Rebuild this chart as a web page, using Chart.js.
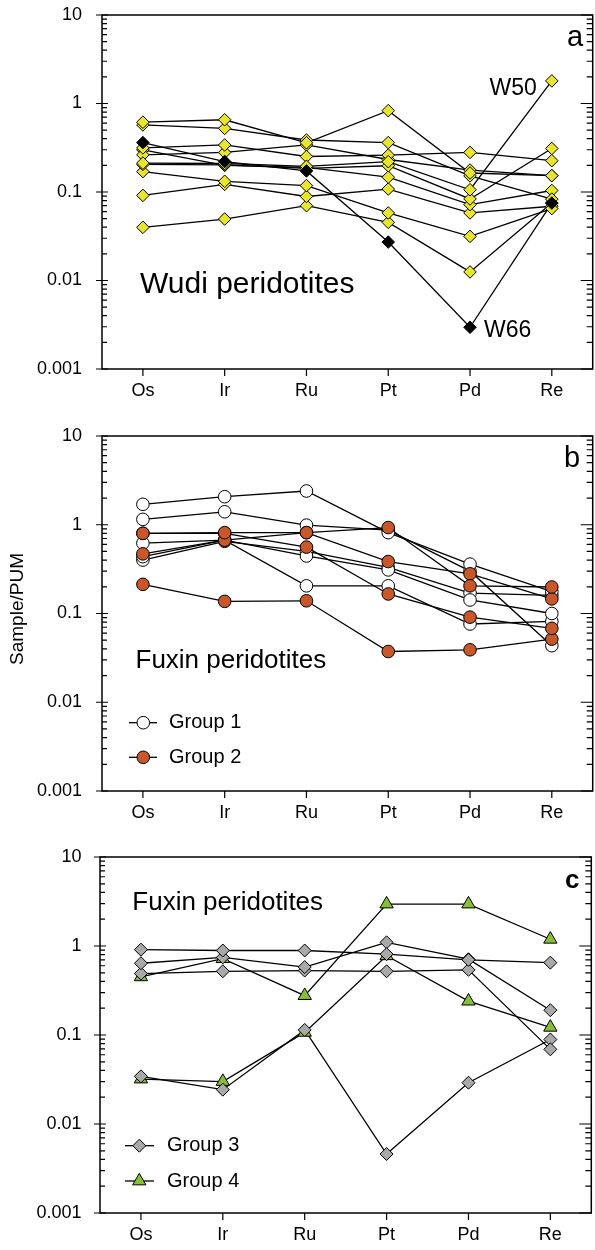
<!DOCTYPE html>
<html>
<head>
<meta charset="utf-8">
<script src="https://cdn.jsdelivr.net/npm/chart.js@4/dist/chart.umd.min.js"></script>
<style>
  html, body { margin: 0; padding: 0; background: #fff; overflow: hidden; width: 595px; height: 1250px; }
  canvas { position: absolute; left: 0; }
</style>
</head>
<body>
<canvas id="panelA" width="600" height="415" style="top:0px"></canvas>
<canvas id="panelB" width="600" height="420" style="top:415px"></canvas>
<canvas id="panelC" width="600" height="415" style="top:835px"></canvas>
<script>
// HSE patterns normalised to PUM — three stacked panels

const elements = ["Os", "Ir", "Ru", "Pt", "Pd", "Re"]
const yTicks = [0.001, 0.01, 0.1, 1, 10]
const yTickLabels = ["0.001", "0.01", "0.1", "1", "10"]

// (a) Wudi peridotites, one row per sample, columns follow `elements`
const wudiYellow = [
  [0.615, 0.655, 0.36, 0.83, 0.164, 0.153],
  [0.573, 0.524, 0.387, 0.362, 0.152, 0.083],
  [0.315, 0.34, 0.252, 0.261, 0.28, 0.226],
  [0.263, 0.28, 0.34, 0.233, 0.177, 0.153],
  [0.205, 0.203, 0.185, 0.198, 0.0835, 0.31],
  [0.30, 0.20, 0.19, 0.147, 0.072, 0.104],
  [0.170, 0.132, 0.118, 0.058, 0.0315, 0.065],
  [0.0915, 0.122, 0.089, 0.108, 0.058, 0.069],
  [0.0399, 0.0495, 0.070, 0.0454, 0.0125, 0.075],
]
const wudiW50 = [0.212, 0.21, 0.195, 0.22, 0.106, 1.8]
const wudiW66 = [0.362, 0.221, 0.173, 0.0272, 0.00296, 0.075]

// (b) Fuxin, groups 1 and 2
const fuxinGroup1 = [
  [1.70, 2.07, 2.40, 0.815, 0.36, 0.176],
  [1.15, 1.40, 0.99, 0.87, 0.30, 0.0434],
  [0.62, 0.67, 0.445, 0.31, 0.142, 0.10],
  [0.437, 0.67, 0.205, 0.205, 0.0762, 0.0815],
  [0.40, 0.65, 0.50, 0.33, 0.17, 0.16],
]
const fuxinGroup2 = [
  [0.80, 0.815, 0.815, 0.93, 0.205, 0.199],
  [0.47, 0.67, 0.815, 0.385, 0.28, 0.146],
  [0.80, 0.80, 0.56, 0.166, 0.091, 0.068],
  [0.213, 0.137, 0.139, 0.0373, 0.039, 0.0515],
]

// (c) Fuxin, groups 3 and 4
const fuxinGroup3 = [
  [0.91, 0.89, 0.89, 0.81, 0.70, 0.65],
  [0.64, 0.745, 0.58, 1.10, 0.71, 0.19],
  [0.49, 0.52, 0.53, 0.52, 0.54, 0.069],
  [0.0343, 0.0243, 0.114, 0.0046, 0.0291, 0.089],
]
const fuxinGroup4 = [
  [0.45, 0.72, 0.277, 2.96, 2.96, 1.19],
  [0.032, 0.030, 0.107, 0.776, 0.24, 0.122],
]

const FONT = "'Liberation Sans', Arial, Helvetica, sans-serif"
const YELLOW = "#e8e52c"
const ORANGE = "#c8572a"
const GRAY = "#a9a9a9"
const GREEN = "#86bf36"

// marker drawing for the hand-made legends (same geometry as Chart.js)
function marker(ctx, style, x, y, r, fill) {
  ctx.beginPath()
  if (style === "circle") {
    ctx.arc(x, y, r, 0, Math.PI * 2)
  } else if (style === "rectRot") {
    ctx.moveTo(x - r, y); ctx.lineTo(x, y - r); ctx.lineTo(x + r, y); ctx.lineTo(x, y + r)
  } else if (style === "triangle") {
    for (let k = 0; k < 3; k++) {
      const a = k * 2 * Math.PI / 3
      const px = x + Math.sin(a) * r, py = y - Math.cos(a) * r
      k ? ctx.lineTo(px, py) : ctx.moveTo(px, py)
    }
  }
  ctx.closePath()
  ctx.fillStyle = fill
  ctx.fill()
  ctx.lineWidth = 1
  ctx.strokeStyle = "#000"
  ctx.stroke()
}

function text(ctx, str, x, y, size, opts = {}) {
  ctx.save()
  ctx.font = `${opts.bold ? "bold " : ""}${size}px ${FONT}`
  ctx.fillStyle = "#000"
  ctx.textAlign = opts.align || "left"
  ctx.textBaseline = opts.baseline || "alphabetic"
  ctx.fillText(str, x, y)
  ctx.restore()
}

function drawLegend(ctx, items, mx, lineL, lineR, textX) {
  items.forEach(it => {
    ctx.save()
    ctx.strokeStyle = "#000"
    ctx.lineWidth = 1.3
    ctx.beginPath(); ctx.moveTo(lineL, it.y); ctx.lineTo(lineR, it.y); ctx.stroke()
    marker(ctx, it.style, mx, it.y, it.r, it.fill)
    ctx.restore()
    text(ctx, it.label, textX, it.y, 20, { baseline: "middle" })
  })
}

// frame, log ticks on both sides, category ticks below
const framePlugin = {
  id: "frame",
  beforeDatasetsDraw(chart) {
    const { ctx, chartArea: { left, right, top, bottom } } = chart
    const y = chart.scales.y, x = chart.scales.x
    ctx.save()
    ctx.strokeStyle = "#000"
    ctx.lineWidth = 1.5
    ctx.strokeRect(left, top, right - left, bottom - top)
    ctx.lineWidth = 1.2
    ctx.beginPath()
    for (let e = -3; e <= 1; e++) {
      const major = Math.pow(10, e)
      const py = y.getPixelForValue(major)
      ctx.moveTo(left - 6, py); ctx.lineTo(left + 6, py)
      ctx.moveTo(right - 12, py); ctx.lineTo(right, py)
      if (e === 1) break
      for (let m = 2; m <= 9; m++) {
        const pm = y.getPixelForValue(m * major)
        ctx.moveTo(left, pm); ctx.lineTo(left + 5, pm)
        ctx.moveTo(right - 6, pm); ctx.lineTo(right, pm)
      }
    }
    elements.forEach((_, i) => {
      const px = x.getPixelForValue(i)
      ctx.moveTo(px, bottom); ctx.lineTo(px, bottom + 7)
    })
    ctx.stroke()
    ctx.restore()
  },
}

function seriesSets(rows, style, fill, radius, layer) {
  const sets = []
  rows.forEach(row => {
    sets.push({ data: row, borderColor: "#000", borderWidth: 1.3, pointRadius: 0, order: 10, tension: 0 })
    sets.push({
      data: row, showLine: false, pointStyle: style, pointRadius: radius,
      pointBackgroundColor: fill, pointBorderColor: "#000", pointBorderWidth: 1, order: layer,
    })
  })
  return sets
}

function makePanel(id, area, labelPad, datasets, annotate) {
  const canvas = document.getElementById(id)
  const W = canvas.width, H = canvas.height
  return new Chart(canvas, {
    type: "line",
    data: { labels: elements, datasets },
    options: {
      responsive: false,
      animation: false,
      events: [],
      layout: { padding: { top: area.top, left: 0, right: W - area.right, bottom: 0 } },
      plugins: { legend: { display: false }, tooltip: { enabled: false } },
      scales: {
        x: {
          type: "category",
          offset: true,
          grid: { display: false, drawTicks: false },
          border: { display: false },
          ticks: { color: "#000", font: { family: FONT, size: 18 }, padding: 11, maxRotation: 0, autoSkip: false },
          afterFit: s => {
            s.height = H - area.bottom
            s.paddingLeft = 0; s.paddingRight = 0
          },
        },
        y: {
          type: "logarithmic",
          min: 0.001,
          max: 10,
          grid: { display: false, drawTicks: false },
          border: { display: false },
          afterBuildTicks: s => { s.ticks = yTicks.map(v => ({ value: v })) },
          ticks: {
            color: "#000", font: { family: FONT, size: 18 }, padding: labelPad, autoSkip: false,
            callback: (v, i) => yTickLabels[i],
          },
          afterFit: s => {
            s.width = area.left
            s.paddingTop = 0; s.paddingBottom = 0
          },
        },
      },
    },
    plugins: [framePlugin, { id: "notes", afterDraw: c => annotate(c.ctx, c) }],
  })
}

// (a)
makePanel("panelA", { left: 102, right: 597, top: 15, bottom: 369 }, 20,
  [
    ...seriesSets([wudiW66], "rectRot", "#000", 6.3, 0),
    ...seriesSets([wudiW50, ...wudiYellow], "rectRot", YELLOW, 6.3, 1),
  ],
  (ctx, chart) => {
    const { x, y } = chart.scales
    text(ctx, "Wudi peridotites", 140, 293, 30)
    text(ctx, "a", 567, 46, 29)
    text(ctx, "W50", x.getPixelForValue(5) - 15, y.getPixelForValue(wudiW50[5]) + 14, 23, { align: "right" })
    text(ctx, "W66", x.getPixelForValue(4) + 14, y.getPixelForValue(wudiW66[4]) + 9.5, 23)
  })

// (b)
makePanel("panelB", { left: 102, right: 597, top: 21, bottom: 376 }, 20,
  [
    ...seriesSets(fuxinGroup2, "circle", ORANGE, 6.3, 0),
    ...seriesSets(fuxinGroup1, "circle", "#fff", 6.3, 1),
  ],
  (ctx) => {
    text(ctx, "Fuxin peridotites", 135.5, 253.3, 26)
    text(ctx, "b", 564, 51.7, 29)
    drawLegend(ctx, [
      { label: "Group 1", style: "circle", fill: "#fff", r: 6.3, y: 307.7 },
      { label: "Group 2", style: "circle", fill: ORANGE, r: 6.3, y: 342.3 },
    ], 143.3, 129, 157, 169)
    ctx.save()
    ctx.translate(23, 194)
    ctx.rotate(-Math.PI / 2)
    text(ctx, "Sample/PUM", 0, 0, 19, { align: "center" })
    ctx.restore()
  })

// (c)
makePanel("panelC", { left: 100, right: 595, top: 22, bottom: 378 }, 18.5,
  [
    ...seriesSets(fuxinGroup3, "rectRot", GRAY, 6.5, 0),
    ...seriesSets(fuxinGroup4, "triangle", GREEN, 7.7, 1),
  ],
  (ctx) => {
    text(ctx, "Fuxin peridotites", 132.3, 75, 26)
    text(ctx, "c", 565, 53.3, 26, { bold: true })
    drawLegend(ctx, [
      { label: "Group 3", style: "rectRot", fill: GRAY, r: 6.5, y: 310.7 },
      { label: "Group 4", style: "triangle", fill: GREEN, r: 7.7, y: 346 },
    ], 139.3, 125, 154, 167)
  })
</script>
</body>
</html>
